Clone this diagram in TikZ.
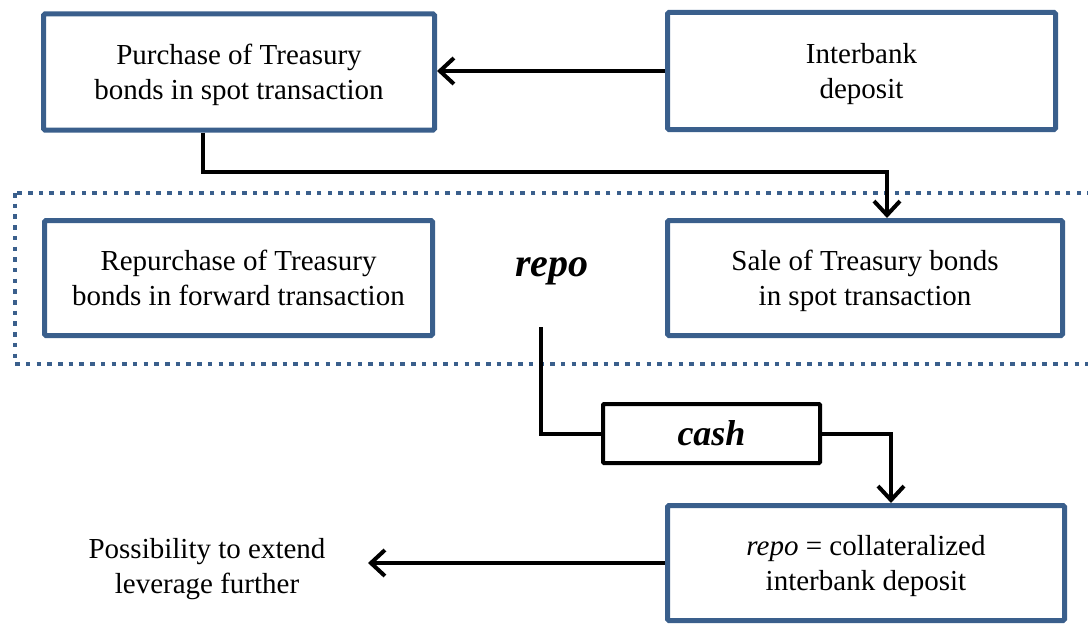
\documentclass[tikz,border=0pt]{standalone}
\usepackage{fontspec}
\setmainfont{Liberation Serif}
\usetikzlibrary{arrows.meta,calc}
\definecolor{boxblue}{RGB}{58,95,140}
\tikzset{
  bluebox/.style={draw=boxblue, line width=5pt, rounded corners=1.5pt, align=center, inner sep=0pt,
    text depth=0pt, font=\fontsize{29}{35}\selectfont},
  cashbox/.style={draw=black, line width=4pt, rounded corners=1pt, inner sep=0pt,
    font=\fontsize{36}{40}\selectfont\bfseries\itshape},
  conn/.style={draw=black, line width=4pt},
  arr/.style={conn, -{Straight Barb[length=14pt,width=26pt,line width=4pt]}},
  plain/.style={align=center, text depth=0pt, font=\fontsize{29}{35}\selectfont},
  groupframe/.style={draw=boxblue, line width=4.5pt, dash pattern=on 4.5pt off 6.2pt}
}
\begin{document}
\begin{tikzpicture}[x=1pt,y=-1pt]
\useasboundingbox (0,0) rectangle (1088,626);
\clip (0,0) rectangle (1088,626);
% dotted group frame
\draw[groupframe] (15,193) rectangle (1110,364);
% boxes
\node[bluebox, minimum width=391pt, minimum height=116pt] (b1) at (239,72) {Purchase of Treasury\\bonds in spot transaction};
\node[bluebox, minimum width=388pt, minimum height=117pt] (b2) at (861.5,71) {Interbank\\deposit};
\node[bluebox, minimum width=388pt, minimum height=115pt] (rep) at (238.5,278) {Repurchase of Treasury\\bonds in forward transaction};
\node[bluebox, minimum width=395pt, minimum height=115pt] (sale) at (865,278) {Sale of Treasury bonds\\in spot transaction};
\node[font=\fontsize{40}{42}\selectfont\bfseries\itshape] (repo) at (552,271) {repo};
\node[cashbox, minimum width=217pt, minimum height=59pt] (cash) at (711.5,433.5) {cash};
\node[bluebox, minimum width=397pt, minimum height=115pt] (bot) at (866,563) {\textit{repo} = collateralized\\interbank deposit};
\node[plain] (lev) at (207,566) {Possibility to extend\\leverage further};
% connectors
\draw[arr] (b2.west) -- (b2.west -| b1.east);
\draw[arr] ([xshift=-36pt]b1.south) |- (887,172) -- (887,0 |- sale.north);
\coordinate (rp) at (541,327);
\draw[conn] (rp) |- (cash.west);
\draw[arr] (cash.east) -| ([xshift=25pt]bot.north);
\coordinate (levtip) at (368,565);
\draw[arr] (bot.west) -- (bot.west -| levtip);
\end{tikzpicture}
\end{document}
